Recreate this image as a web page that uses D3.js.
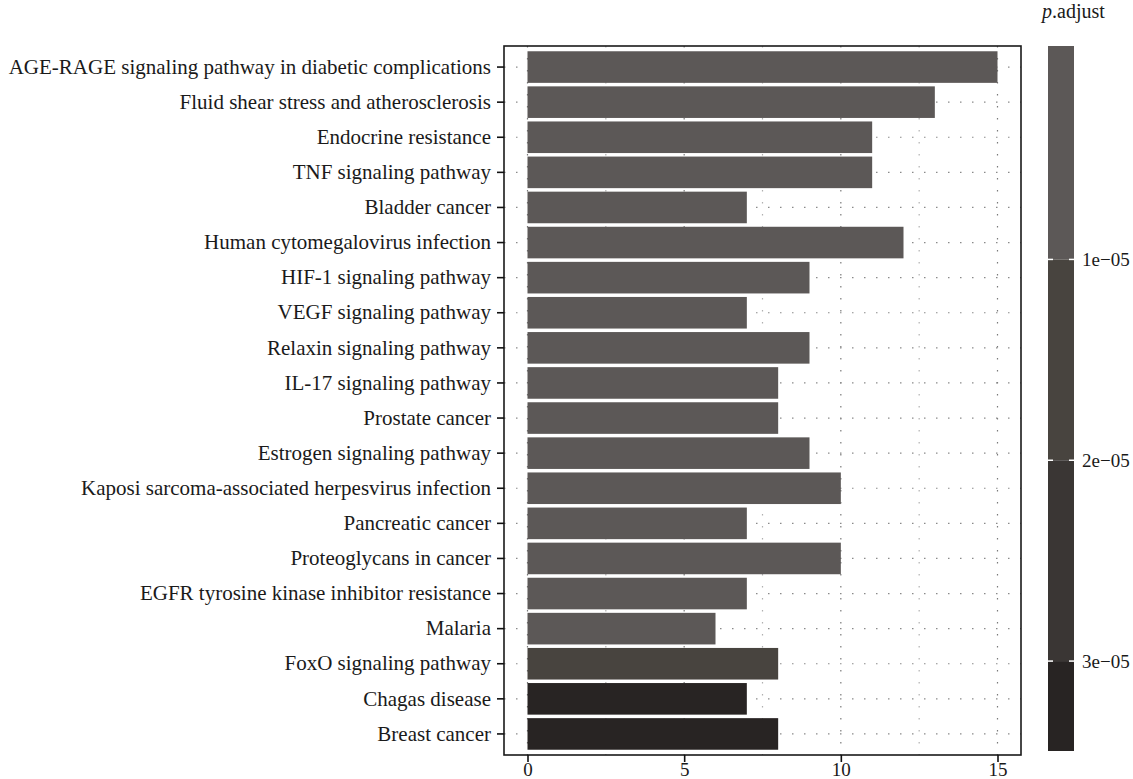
<!DOCTYPE html>
<html>
<head>
<meta charset="utf-8">
<script src="https://cdn.jsdelivr.net/npm/d3@7"></script>
<style>
  html, body { margin: 0; padding: 0; background: #fff; }
  svg { display: block; font-family: "Liberation Serif", "DejaVu Serif", serif; }
</style>
</head>
<body>
<svg id="chart" width="1133" height="779"></svg>
<script>
// Enriched KEGG pathways, top to bottom
const pathways = [
  "AGE-RAGE signaling pathway in diabetic complications",
  "Fluid shear stress and atherosclerosis",
  "Endocrine resistance",
  "TNF signaling pathway",
  "Bladder cancer",
  "Human cytomegalovirus infection",
  "HIF-1 signaling pathway",
  "VEGF signaling pathway",
  "Relaxin signaling pathway",
  "IL-17 signaling pathway",
  "Prostate cancer",
  "Estrogen signaling pathway",
  "Kaposi sarcoma-associated herpesvirus infection",
  "Pancreatic cancer",
  "Proteoglycans in cancer",
  "EGFR tyrosine kinase inhibitor resistance",
  "Malaria",
  "FoxO signaling pathway",
  "Chagas disease",
  "Breast cancer"
];

// Gene counts per pathway
const counts = [15, 13, 11, 11, 7, 12, 9, 7, 9, 8, 8, 9, 10, 7, 10, 7, 6, 8, 7, 8];

// Adjusted p-values per pathway
const pAdjust = [
  2.5e-7, 4.1e-7, 1.2e-6, 1.5e-6, 1.8e-6, 2.1e-6, 2.6e-6, 3.0e-6, 3.5e-6, 3.9e-6,
  4.2e-6, 4.6e-6, 5.1e-6, 5.5e-6, 6.0e-6, 7.5e-6, 8.4e-6, 1.4e-5, 3.2e-5, 3.36e-5
];

// Axis ticks
const xTicks = [0, 5, 10, 15];
const xMinorTicks = [2.5, 7.5, 12.5];
const pTicks = [1e-5, 2e-5, 3e-5];
const pTickLabels = ["1e\u221205", "2e\u221205", "3e\u221205"];

// Fill colours for the p.adjust bands (between the legend breaks)
const pBandColors = ["#5c5857", "#48443f", "#3a3634", "#282423"];

const rows = pathways.map((name, i) => ({ name, count: counts[i], p: pAdjust[i] }));

const svg = d3.select("#chart");

const panel = { left: 504, right: 1021, top: 46, bottom: 755 };

const x = d3.scaleLinear()
  .domain([-0.75, 15.75])
  .range([panel.left, panel.right]);

const y = d3.scaleBand()
  .domain(pathways)
  .range([panel.top, panel.bottom])
  .paddingInner(0.1)
  .paddingOuter(0.15);

const fill = d3.scaleThreshold()
  .domain(pTicks)
  .range(pBandColors);

// Grid lines (dotted)
const grid = svg.append("g");
grid.selectAll("line.minor")
  .data(xMinorTicks)
  .join("line")
  .attr("x1", d => x(d)).attr("x2", d => x(d))
  .attr("y1", panel.top).attr("y2", panel.bottom)
  .attr("stroke", "#b0b0b0")
  .attr("stroke-width", 1.2)
  .attr("stroke-dasharray", "1.5,10.5");
grid.selectAll("line.major")
  .data(xTicks)
  .join("line")
  .attr("x1", d => x(d)).attr("x2", d => x(d))
  .attr("y1", panel.top).attr("y2", panel.bottom)
  .attr("stroke", "#7a7a7a")
  .attr("stroke-width", 1.2)
  .attr("stroke-dasharray", "1.5,10.5");
grid.selectAll("line.h")
  .data(pathways)
  .join("line")
  .attr("x1", panel.left).attr("x2", panel.right)
  .attr("y1", d => y(d) + y.bandwidth() / 2)
  .attr("y2", d => y(d) + y.bandwidth() / 2)
  .attr("stroke", "#8a8a8a")
  .attr("stroke-width", 1.2)
  .attr("stroke-dasharray", "1.5,10.5");

// Bars
svg.append("g")
  .selectAll("rect")
  .data(rows)
  .join("rect")
  .attr("x", x(0))
  .attr("y", d => y(d.name))
  .attr("width", d => x(d.count) - x(0))
  .attr("height", y.bandwidth())
  .attr("fill", d => fill(d.p));

// Panel border
svg.append("rect")
  .attr("x", panel.left).attr("y", panel.top)
  .attr("width", panel.right - panel.left)
  .attr("height", panel.bottom - panel.top)
  .attr("fill", "none")
  .attr("stroke", "#1a1a1a")
  .attr("stroke-width", 1.6);

// Y axis
const yAxis = svg.append("g")
  .attr("transform", `translate(${panel.left},0)`)
  .call(d3.axisLeft(y).tickSize(7).tickPadding(6));
yAxis.select(".domain").remove();
yAxis.selectAll(".tick line").attr("stroke", "#111").attr("stroke-width", 1.6);
yAxis.selectAll(".tick text")
  .attr("fill", "#1a1a1a")
  .style("font-size", "21px")
  .style("font-family", "'Liberation Serif', serif");

// X axis
const xAxis = svg.append("g")
  .attr("transform", `translate(0,${panel.bottom})`)
  .call(d3.axisBottom(x).tickValues(xTicks).tickFormat(d3.format("d")).tickSize(7).tickPadding(2));
xAxis.select(".domain").remove();
xAxis.selectAll(".tick line").attr("stroke", "#111").attr("stroke-width", 1.6);
xAxis.selectAll(".tick text")
  .attr("fill", "#1a1a1a")
  .attr("dy", "0.62em")
  .style("font-size", "19px")
  .style("font-family", "'Liberation Serif', serif");

// Colour bar legend
const bar = { left: 1048, right: 1074, top: 46, bottom: 751 };
const half = (bar.bottom - bar.top) / 40;
const pMin = d3.min(pAdjust), pMax = d3.max(pAdjust);
const py = d3.scaleLinear()
  .domain([pMin, pMax])
  .range([bar.top + half, bar.bottom - half]);

const bandEdges = [py.invert(bar.top), ...pTicks, py.invert(bar.bottom)];
const bands = d3.pairs(bandEdges);
const legend = svg.append("g");
legend.selectAll("rect")
  .data(bands)
  .join("rect")
  .attr("x", bar.left)
  .attr("width", bar.right - bar.left)
  .attr("y", d => py(d[0]))
  .attr("height", d => py(d[1]) - py(d[0]))
  .attr("fill", d => fill((d[0] + d[1]) / 2));

legend.selectAll("line.tl")
  .data(pTicks)
  .join("line")
  .attr("x1", bar.left).attr("x2", bar.left + 5)
  .attr("y1", d => py(d)).attr("y2", d => py(d))
  .attr("stroke", "#fff").attr("stroke-width", 1.5);
legend.selectAll("line.tr")
  .data(pTicks)
  .join("line")
  .attr("x1", bar.right - 5).attr("x2", bar.right)
  .attr("y1", d => py(d)).attr("y2", d => py(d))
  .attr("stroke", "#fff").attr("stroke-width", 1.5);

legend.selectAll("text.lab")
  .data(pTicks)
  .join("text")
  .attr("x", bar.right + 8)
  .attr("y", d => py(d))
  .attr("dy", "0.35em")
  .attr("fill", "#1a1a1a")
  .style("font-size", "19px")
  .text((d, i) => pTickLabels[i]);

const title = legend.append("text")
  .attr("x", 1042)
  .attr("y", 18)
  .attr("fill", "#1a1a1a")
  .style("font-size", "20px");
title.append("tspan").style("font-style", "italic").text("p");
title.append("tspan").text(".adjust");
</script>
</body>
</html>
